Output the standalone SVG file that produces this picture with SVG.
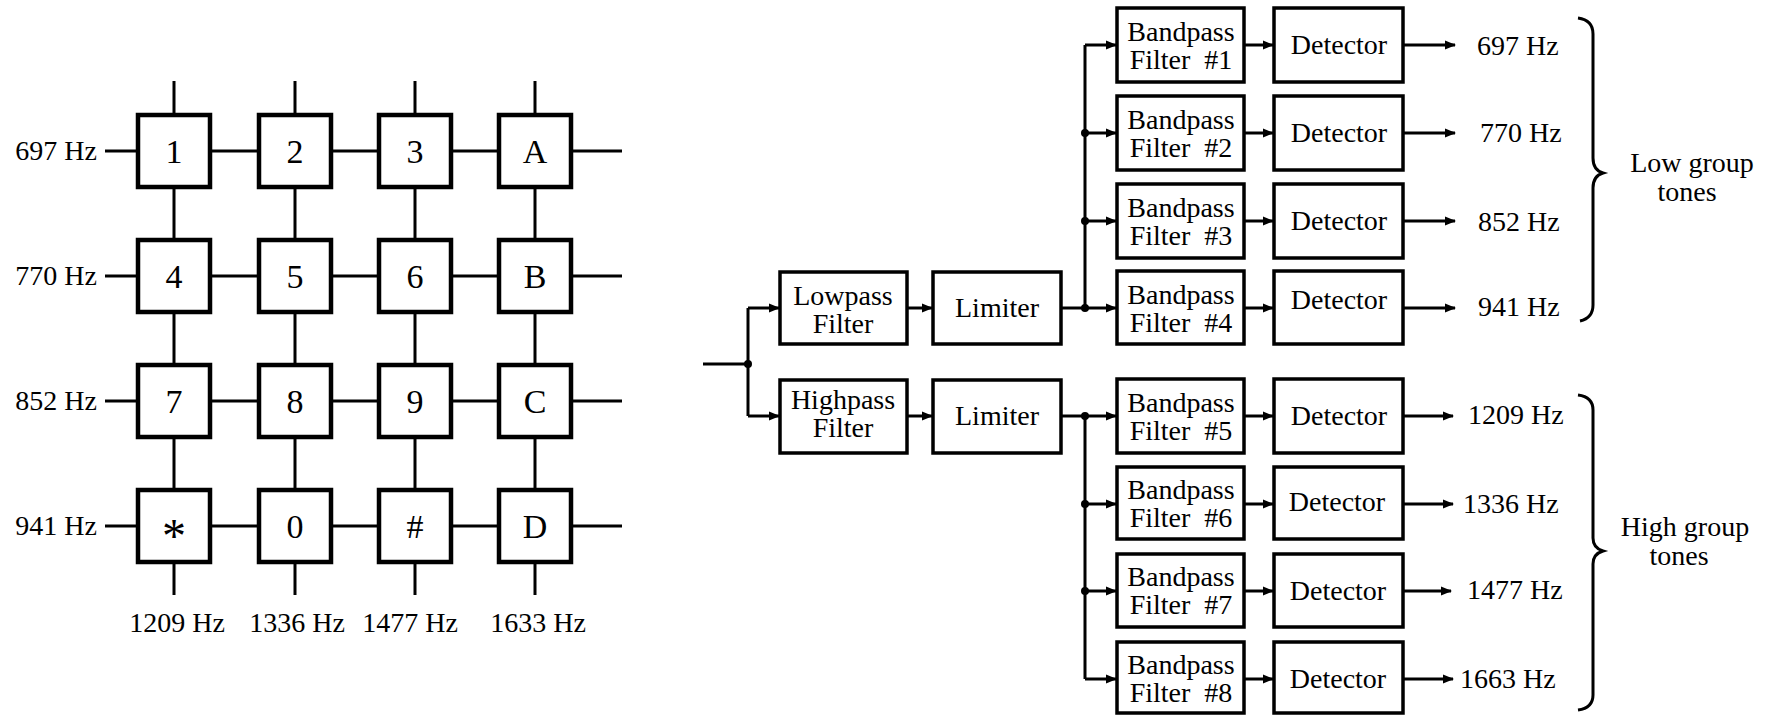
<svg xmlns="http://www.w3.org/2000/svg" width="1773" height="715" viewBox="0 0 1773 715">
<style>
.key{fill:#fff;stroke:#000;stroke-width:4.5}
.box{fill:#fff;stroke:#000;stroke-width:3.5}
.ln{stroke:#000;stroke-width:3;fill:none}
.arr{stroke:#000;stroke-width:3;fill:none;marker-end:url(#ah)}
.t{font-family:"Liberation Serif","Times New Roman",serif;font-size:28px;fill:#000}
.k{font-size:34px}
.c{text-anchor:middle}
.r{text-anchor:end}
.dot{fill:#000}
</style>
<defs>
<marker id="ah" markerUnits="userSpaceOnUse" markerWidth="11" markerHeight="10" refX="10" refY="5" orient="auto">
<path d="M0,0.5 L11,5 L0,9.5 z" fill="#000"/>
</marker>
</defs>
<rect width="1773" height="715" fill="#fff"/>

<g id="connectors">
<g id="grid">
<line class="ln" x1="105" y1="151" x2="622" y2="151"/>
<line class="ln" x1="105" y1="276" x2="622" y2="276"/>
<line class="ln" x1="105" y1="401" x2="622" y2="401"/>
<line class="ln" x1="105" y1="526" x2="622" y2="526"/>
<line class="ln" x1="174" y1="81" x2="174" y2="595"/>
<line class="ln" x1="295" y1="81" x2="295" y2="595"/>
<line class="ln" x1="415" y1="81" x2="415" y2="595"/>
<line class="ln" x1="535" y1="81" x2="535" y2="595"/>
</g>
<g id="flow">
<line class="ln" x1="703" y1="364" x2="748" y2="364"/>
<line class="ln" x1="748" y1="308" x2="748" y2="416"/>
<path class="arr" d="M748,308 H779"/>
<path class="arr" d="M748,416 H779"/>
<path class="arr" d="M907,308 H932"/>
<path class="arr" d="M907,416 H932"/>
<line class="ln" x1="1061" y1="308" x2="1085" y2="308"/>
<line class="ln" x1="1085" y1="45" x2="1085" y2="308"/>
<path class="arr" d="M1085,45 H1116"/>
<path class="arr" d="M1085,133 H1116"/>
<path class="arr" d="M1085,221 H1116"/>
<path class="arr" d="M1085,308 H1116"/>
<line class="ln" x1="1061" y1="416" x2="1085" y2="416"/>
<line class="ln" x1="1085" y1="416" x2="1085" y2="679"/>
<path class="arr" d="M1085,416 H1116"/>
<path class="arr" d="M1085,504 H1116"/>
<path class="arr" d="M1085,591 H1116"/>
<path class="arr" d="M1085,679 H1116"/>
<path class="arr" d="M1244,45 H1273"/>
<path class="arr" d="M1244,133 H1273"/>
<path class="arr" d="M1244,221 H1273"/>
<path class="arr" d="M1244,308 H1273"/>
<path class="arr" d="M1244,416 H1273"/>
<path class="arr" d="M1244,504 H1273"/>
<path class="arr" d="M1244,591 H1273"/>
<path class="arr" d="M1244,679 H1273"/>
<path class="arr" d="M1403,45 H1455"/>
<path class="arr" d="M1403,133 H1455"/>
<path class="arr" d="M1403,221 H1455"/>
<path class="arr" d="M1403,308 H1455"/>
<path class="arr" d="M1403,416 H1453"/>
<path class="arr" d="M1403,504 H1453"/>
<path class="arr" d="M1403,591 H1451"/>
<path class="arr" d="M1403,679 H1453"/>
<circle class="dot" cx="748" cy="364" r="4"/>
<circle class="dot" cx="1085" cy="133" r="4"/>
<circle class="dot" cx="1085" cy="221" r="4"/>
<circle class="dot" cx="1085" cy="308" r="4"/>
<circle class="dot" cx="1085" cy="416" r="4"/>
<circle class="dot" cx="1085" cy="504" r="4"/>
<circle class="dot" cx="1085" cy="591" r="4"/>
</g>
</g>

<g id="row-labels">
<text class="t r" x="97" y="160">697 Hz</text>
<text class="t r" x="97" y="285">770 Hz</text>
<text class="t r" x="97" y="410">852 Hz</text>
<text class="t r" x="97" y="535">941 Hz</text>
</g>
<g id="col-labels">
<text class="t c" x="177" y="632">1209 Hz</text>
<text class="t c" x="297" y="632">1336 Hz</text>
<text class="t c" x="410" y="632">1477 Hz</text>
<text class="t c" x="538" y="632">1633 Hz</text>
</g>

<g id="key-1"><rect class="key" x="138" y="115" width="72" height="72"/><text class="t k c" x="174" y="163">1</text></g>
<g id="key-2"><rect class="key" x="259" y="115" width="72" height="72"/><text class="t k c" x="295" y="163">2</text></g>
<g id="key-3"><rect class="key" x="379" y="115" width="72" height="72"/><text class="t k c" x="415" y="163">3</text></g>
<g id="key-A"><rect class="key" x="499" y="115" width="72" height="72"/><text class="t k c" x="535" y="163">A</text></g>
<g id="key-4"><rect class="key" x="138" y="240" width="72" height="72"/><text class="t k c" x="174" y="288">4</text></g>
<g id="key-5"><rect class="key" x="259" y="240" width="72" height="72"/><text class="t k c" x="295" y="288">5</text></g>
<g id="key-6"><rect class="key" x="379" y="240" width="72" height="72"/><text class="t k c" x="415" y="288">6</text></g>
<g id="key-B"><rect class="key" x="499" y="240" width="72" height="72"/><text class="t k c" x="535" y="288">B</text></g>
<g id="key-7"><rect class="key" x="138" y="365" width="72" height="72"/><text class="t k c" x="174" y="413">7</text></g>
<g id="key-8"><rect class="key" x="259" y="365" width="72" height="72"/><text class="t k c" x="295" y="413">8</text></g>
<g id="key-9"><rect class="key" x="379" y="365" width="72" height="72"/><text class="t k c" x="415" y="413">9</text></g>
<g id="key-C"><rect class="key" x="499" y="365" width="72" height="72"/><text class="t k c" x="535" y="413">C</text></g>
<g id="key-star"><rect class="key" x="138" y="490" width="72" height="72"/><text class="t c" x="174" y="552" style="font-size:48px">*</text></g>
<g id="key-0"><rect class="key" x="259" y="490" width="72" height="72"/><text class="t k c" x="295" y="538">0</text></g>
<g id="key-hash"><rect class="key" x="379" y="490" width="72" height="72"/><text class="t k c" x="415" y="538">#</text></g>
<g id="key-D"><rect class="key" x="499" y="490" width="72" height="72"/><text class="t k c" x="535" y="538">D</text></g>

<g id="lowpass"><rect class="box" x="780" y="272" width="127" height="72"/><text class="t c" x="843" y="305">Lowpass</text><text class="t c" x="843" y="333">Filter</text></g>
<g id="highpass"><rect class="box" x="780" y="380" width="127" height="73"/><text class="t c" x="843" y="409">Highpass</text><text class="t c" x="843" y="437">Filter</text></g>
<g id="limiter-low"><rect class="box" x="933" y="272" width="128" height="72"/><text class="t c" x="997" y="317">Limiter</text></g>
<g id="limiter-high"><rect class="box" x="933" y="380" width="128" height="73"/><text class="t c" x="997" y="425">Limiter</text></g>

<g id="bpf1"><rect class="box" x="1117" y="8" width="127" height="74"/><text class="t c" x="1181" y="41">Bandpass</text><text class="t c" x="1181" y="69" xml:space="preserve">Filter  #1</text></g>
<g id="bpf2"><rect class="box" x="1117" y="96" width="127" height="74"/><text class="t c" x="1181" y="129">Bandpass</text><text class="t c" x="1181" y="157" xml:space="preserve">Filter  #2</text></g>
<g id="bpf3"><rect class="box" x="1117" y="184" width="127" height="74"/><text class="t c" x="1181" y="217">Bandpass</text><text class="t c" x="1181" y="245" xml:space="preserve">Filter  #3</text></g>
<g id="bpf4"><rect class="box" x="1117" y="271" width="127" height="73"/><text class="t c" x="1181" y="304">Bandpass</text><text class="t c" x="1181" y="332" xml:space="preserve">Filter  #4</text></g>
<g id="bpf5"><rect class="box" x="1117" y="379" width="127" height="74"/><text class="t c" x="1181" y="412">Bandpass</text><text class="t c" x="1181" y="440" xml:space="preserve">Filter  #5</text></g>
<g id="bpf6"><rect class="box" x="1117" y="467" width="127" height="72"/><text class="t c" x="1181" y="499">Bandpass</text><text class="t c" x="1181" y="527" xml:space="preserve">Filter  #6</text></g>
<g id="bpf7"><rect class="box" x="1117" y="554" width="127" height="73"/><text class="t c" x="1181" y="586">Bandpass</text><text class="t c" x="1181" y="614" xml:space="preserve">Filter  #7</text></g>
<g id="bpf8"><rect class="box" x="1117" y="642" width="127" height="71"/><text class="t c" x="1181" y="674">Bandpass</text><text class="t c" x="1181" y="702" xml:space="preserve">Filter  #8</text></g>

<g id="det1"><rect class="box" x="1274" y="8" width="129" height="74"/><text class="t c" x="1339" y="54">Detector</text></g>
<g id="det2"><rect class="box" x="1274" y="96" width="129" height="74"/><text class="t c" x="1339" y="142">Detector</text></g>
<g id="det3"><rect class="box" x="1274" y="184" width="129" height="74"/><text class="t c" x="1339" y="230">Detector</text></g>
<g id="det4"><rect class="box" x="1274" y="271" width="129" height="73"/><text class="t c" x="1339" y="309">Detector</text></g>
<g id="det5"><rect class="box" x="1274" y="379" width="129" height="74"/><text class="t c" x="1339" y="425">Detector</text></g>
<g id="det6"><rect class="box" x="1274" y="467" width="129" height="72"/><text class="t c" x="1337" y="511">Detector</text></g>
<g id="det7"><rect class="box" x="1274" y="554" width="129" height="73"/><text class="t c" x="1338" y="600">Detector</text></g>
<g id="det8"><rect class="box" x="1274" y="642" width="129" height="71"/><text class="t c" x="1338" y="688">Detector</text></g>

<g id="outputs">
<text class="t" x="1477" y="55">697 Hz</text>
<text class="t" x="1480" y="142">770 Hz</text>
<text class="t" x="1478" y="231">852 Hz</text>
<text class="t" x="1478" y="316">941 Hz</text>
<text class="t" x="1468" y="424">1209 Hz</text>
<text class="t" x="1463" y="513">1336 Hz</text>
<text class="t" x="1467" y="599">1477 Hz</text>
<text class="t" x="1460" y="688">1663 Hz</text>
</g>

<g id="low-group">
<path class="ln" d="M1578,18 Q1593,20 1593,34 L1593,158 Q1593,170 1603,173 Q1593,176 1593,188 L1593,305 Q1593,318 1580,321"/>
<text class="t c" x="1692" y="172">Low group</text>
<text class="t c" x="1687" y="201">tones</text>
</g>
<g id="high-group">
<path class="ln" d="M1578,395 Q1593,397 1593,410 L1593,538 Q1593,548 1603,551 Q1593,554 1593,564 L1593,695 Q1593,708 1578,710"/>
<text class="t c" x="1685" y="536">High group</text>
<text class="t c" x="1679" y="565">tones</text>
</g>
</svg>
